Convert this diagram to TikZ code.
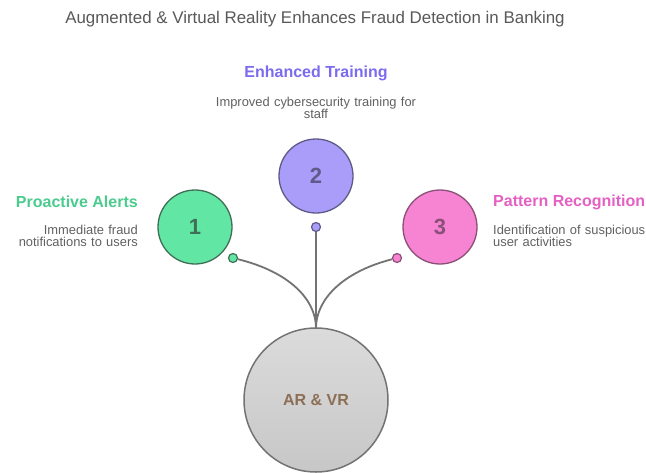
\documentclass[tikz,border=0pt]{standalone}
\usepackage{fontspec}
\setmainfont{Liberation Sans}
\begin{document}
\begin{tikzpicture}[x=1pt,y=-1pt,
  numcirc/.style={circle,minimum size=74pt,inner sep=0pt,line width=1.3pt,font=\fontsize{22}{24}\selectfont\bfseries},
  dotc/.style={circle,minimum size=9pt,inner sep=0pt,line width=1.2pt},
  link/.style={draw=black!55,line width=1.8pt},
  head/.style={font=\fontsize{16}{18}\selectfont\bfseries,inner sep=0pt},
  desc/.style={font=\fontsize{12.9}{12.5}\selectfont,text=black!62,inner sep=0pt,text width=180pt}
]
\definecolor{gfill}{HTML}{62E6A3}
\definecolor{gline}{HTML}{3F6F57}
\definecolor{gtext}{HTML}{4CCB8E}
\definecolor{pfill}{HTML}{A99DF9}
\definecolor{pline}{HTML}{5F5A8A}
\definecolor{ptext}{HTML}{7C6BEE}
\definecolor{kfill}{HTML}{F784D2}
\definecolor{kline}{HTML}{8A5078}
\definecolor{ktext}{HTML}{E461C3}
\useasboundingbox (0,0) rectangle (646,472);
\fill[white] (0,0) rectangle (646,472);

\node[font=\fontsize{16.9}{18}\selectfont,text=black!65,inner sep=0pt] (title) at (315,19) {Augmented \& Virtual Reality Enhances Fraud Detection in Banking};

% central hub
\node[circle,minimum size=144pt,inner sep=0pt,line width=1.5pt,draw=black!55,top color=black!14,bottom color=black!22,
      font=\fontsize{16}{18}\selectfont\bfseries,text={rgb,255:red,140;green,110;blue,85}] (hub) at (316,400) {AR \& VR};

% numbered circles
\node[numcirc,draw=gline,fill=gfill,text=gline] (c1) at (195,227) {1};
\node[numcirc,draw=pline,fill=pfill,text=pline] (c2) at (316,176) {2};
\node[numcirc,draw=kline,fill=kfill,text=kline] (c3) at (440,227) {3};

% small end dots
\node[dotc,draw=gline,fill=gfill] (d1) at (233,258) {};
\node[dotc,draw=pline,fill=pfill] (d2) at (316,227) {};
\node[dotc,draw=kline,fill=kfill] (d3) at (397,258) {};

\coordinate (hubtop) at (316,328);
\draw[link] (d1) .. controls (290,272) and (316,300) .. (hubtop);
\draw[link] (d2) -- (hubtop);
\draw[link] (d3) .. controls (342,272) and (316,300) .. (hubtop);

% labels
\node[head,text=gtext,anchor=east] (h1) at (138,202) {Proactive Alerts};
\node[desc,anchor=north east,align=right] (t1) at (138,224.5) {Immediate fraud\\notifications to users};

\node[head,text=ptext] (h2) at (316,73) {Enhanced Training};
\node[desc,anchor=north,align=center,text width=240pt] (t2) at (316,96.5) {Improved cybersecurity training for\\staff};

\node[head,text=ktext,anchor=west] (h3) at (493,202) {Pattern Recognition};
\node[desc,anchor=north west,align=left] (t3) at (493,224.5) {Identification of suspicious\\user activities};
\end{tikzpicture}
\end{document}
